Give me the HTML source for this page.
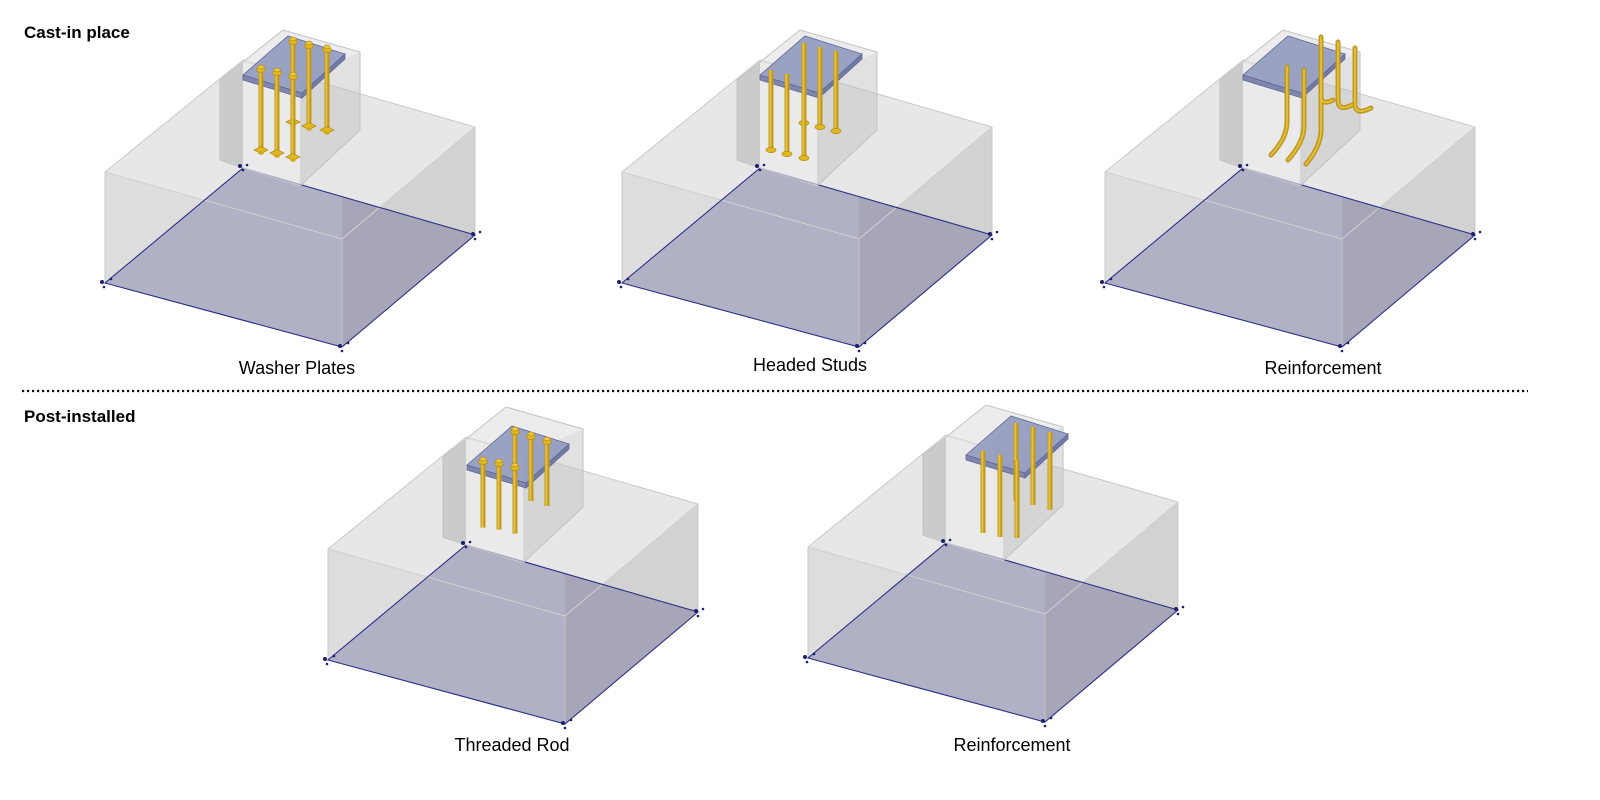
<!DOCTYPE html>
<html><head><meta charset="utf-8"><style>
html,body{margin:0;padding:0;background:#fff;}
svg{display:block;}
text{font-family:"Liberation Sans",sans-serif;}
</style></head><body>
<svg width="1600" height="800" viewBox="0 0 1600 800" xmlns="http://www.w3.org/2000/svg">
<defs>
<g id="body">
  <polygon points="105,172 243,60 475,127 342,239" fill="#e7e7e7"/>
  <polygon points="105,172 342,239 342,347 105,283" fill="#dddddd"/>
  <polygon points="342,239 475,127 475,235 342,347" fill="#d2d2d2"/>
  <polygon points="105,283 342,347 342,197 243,168" fill="#b1b1c6"/>
  <polygon points="342,347 475,235 342,197" fill="#a7a6b9"/>
  <polyline points="105,283 105,172 243,60 475,127 475,235" fill="none" stroke="#c9c9c9" stroke-width="1"/>
  <polyline points="105,172 342,239 475,127" fill="none" stroke="#d0d0d0" stroke-width="1"/>
  <line x1="342" y1="239" x2="342" y2="347" stroke="#c4c4c4"/>
  <polygon points="105,283 342,347 475,235 243,168" fill="none" stroke="#2e2e84" stroke-width="1.1"/>
  <polygon points="220,80 243,62 243,167 220,160" fill="#b4b4b4" fill-opacity="0.55"/>
  <polygon points="243,62 300,78 300,186 243,168" fill="#ececec" fill-opacity="0.6"/>
  <polygon points="300,78 360,52 360,130 300,186" fill="#c4c4c4" fill-opacity="0.5"/>
  <polygon points="243,62 283,30 360,52 300,78" fill="#e0e0e0" fill-opacity="0.6"/>
  <polygon points="243,62 283,30 360,52 360,130 300,186 243,168 220,160 220,80" fill="none" stroke="#c2c2c2"/>
  <g fill="#1e1e6e">
    <circle cx="102" cy="282" r="2"/><circle cx="111" cy="279" r="1.3"/><circle cx="104" cy="287" r="1.3"/>
    <circle cx="340" cy="346" r="2"/><circle cx="348" cy="343" r="1.3"/><circle cx="342" cy="351" r="1.3"/>
    <circle cx="473" cy="234" r="2"/><circle cx="480" cy="232" r="1.3"/><circle cx="475" cy="239" r="1.3"/>
    <circle cx="240" cy="166" r="2"/><circle cx="247" cy="165" r="1.3"/><circle cx="243" cy="170" r="1.3"/>
  </g>
</g>
<g id="plate">
  <polygon points="243,75 302,93 302,98 243,80" fill="#7f87ad" stroke="#5f6696" stroke-width="0.8"/>
  <polygon points="302,93 345,54 345,59 302,98" fill="#737ba4" stroke="#5f6696" stroke-width="0.8"/>
  <polygon points="243,75 288,36 345,54 302,93" fill="#939bbf" fill-opacity="0.92" stroke="#5f6696" stroke-width="0.8"/>
</g>
<g id="bar"><line x1="0" y1="0" x2="0" y2="82" stroke="#c09a1e" stroke-width="5"/><line x1="-0.6" y1="0" x2="-0.6" y2="82" stroke="#e6c442" stroke-width="1.8"/></g>
<g id="nut"><ellipse cx="0" cy="0" rx="4.5" ry="2.4" fill="#e2b820" stroke="#b08a12" stroke-width="0.7"/><ellipse cx="0" cy="-3" rx="3.2" ry="1.9" fill="#eec83a" stroke="#b08a12" stroke-width="0.6"/></g>
<g id="washer"><polygon points="-7,0 0,-3.5 7,0 0,3.5" fill="#e2b820" stroke="#b08a12" stroke-width="0.7"/><ellipse cx="0" cy="3" rx="2.8" ry="1.7" fill="#d4a818"/></g>
<g id="head"><ellipse cx="0" cy="0" rx="5" ry="2.6" fill="#e2b820" stroke="#b08a12" stroke-width="0.7"/></g>
</defs>

<text x="24" y="38" font-size="17" font-weight="bold">Cast-in place</text>
<text x="24" y="422" font-size="17" font-weight="bold">Post-installed</text>
<line x1="22" y1="391" x2="1528" y2="391" stroke="#111" stroke-width="2.2" stroke-dasharray="2.2,2.8"/>

<g>
  <use href="#body"/>
  <use href="#plate"/>
  <use href="#bar" transform="translate(293,42)"/><use href="#bar" transform="translate(309,46)"/><use href="#bar" transform="translate(327,50)"/>
  <use href="#washer" transform="translate(293,122)"/><use href="#washer" transform="translate(309,126)"/><use href="#washer" transform="translate(327,130)"/>
  <use href="#nut" transform="translate(293,42)"/><use href="#nut" transform="translate(309,46)"/><use href="#nut" transform="translate(327,50)"/>
  <use href="#bar" transform="translate(261,70)"/><use href="#bar" transform="translate(277,73)"/><use href="#bar" transform="translate(293,77)"/>
  <use href="#washer" transform="translate(261,150)"/><use href="#washer" transform="translate(277,153)"/><use href="#washer" transform="translate(293,157)"/>
  <use href="#nut" transform="translate(261,70)"/><use href="#nut" transform="translate(277,73)"/><use href="#nut" transform="translate(293,77)"/>
  <text x="297" y="374" font-size="18" text-anchor="middle">Washer Plates</text>
</g>

<g transform="translate(517,0)">
  <use href="#body"/>
  <use href="#plate"/>
  <use href="#bar" transform="translate(287,43)"/><use href="#bar" transform="translate(303,47)"/><use href="#bar" transform="translate(319,51)"/>
  <use href="#head" transform="translate(287,123)"/><use href="#head" transform="translate(303,127)"/><use href="#head" transform="translate(319,131)"/>
  <use href="#bar" transform="translate(254,70)"/><use href="#bar" transform="translate(270,74)"/><use href="#bar" transform="translate(287,78)"/>
  <use href="#head" transform="translate(254,150)"/><use href="#head" transform="translate(270,154)"/><use href="#head" transform="translate(287,158)"/>
  <text x="293" y="371" font-size="18" text-anchor="middle">Headed Studs</text>
</g>

<g transform="translate(1000,0)">
  <use href="#body"/>
  <use href="#plate"/>
  <g fill="none" stroke-linecap="round">
    <g stroke="#c09a1e" stroke-width="5">
      <path d="M321,37 V96 Q321,106 333,100"/>
      <path d="M338,42 V100 Q338,112 352,105"/>
      <path d="M355,48 V104 Q355,116 371,108"/>
      <path d="M287,67 V122 Q287,138 271,155"/>
      <path d="M304,70 V126 Q304,142 288,160"/>
      <path d="M321,76 V130 Q321,146 306,164"/>
    </g>
    <g stroke="#e6c442" stroke-width="1.6">
      <path d="M321,37 V96 Q321,106 333,100"/>
      <path d="M338,42 V100 Q338,112 352,105"/>
      <path d="M355,48 V104 Q355,116 371,108"/>
      <path d="M287,67 V122 Q287,138 271,155"/>
      <path d="M304,70 V126 Q304,142 288,160"/>
      <path d="M321,76 V130 Q321,146 306,164"/>
    </g>
  </g>
  <text x="323" y="374" font-size="18" text-anchor="middle">Reinforcement</text>
</g>

<g transform="translate(223,377)">
  <use href="#body"/>
  <g transform="translate(1,13)"><use href="#plate"/></g>
  <use href="#bar" transform="translate(292,55) scale(1,0.78)"/><use href="#bar" transform="translate(308,60) scale(1,0.78)"/><use href="#bar" transform="translate(324,65) scale(1,0.78)"/>
  <use href="#nut" transform="translate(292,55)"/><use href="#nut" transform="translate(308,60)"/><use href="#nut" transform="translate(324,65)"/>
  <use href="#bar" transform="translate(260,85) scale(1,0.8)"/><use href="#bar" transform="translate(276,87) scale(1,0.8)"/><use href="#bar" transform="translate(292,91) scale(1,0.8)"/>
  <use href="#nut" transform="translate(260,85)"/><use href="#nut" transform="translate(276,87)"/><use href="#nut" transform="translate(292,91)"/>
  <text x="289" y="374" font-size="18" text-anchor="middle">Threaded Rod</text>
</g>

<g transform="translate(703,375)">
  <use href="#body"/>
  <g transform="translate(20,5)"><use href="#plate"/></g>
  <use href="#bar" transform="translate(313,48) scale(1,0.95)"/><use href="#bar" transform="translate(330,52) scale(1,0.95)"/><use href="#bar" transform="translate(347,57) scale(1,0.95)"/>
  <use href="#bar" transform="translate(280,76)"/><use href="#bar" transform="translate(297,80)"/><use href="#bar" transform="translate(314,85) scale(1,0.95)"/>
  <text x="309" y="376" font-size="18" text-anchor="middle">Reinforcement</text>
</g>
</svg>
</body></html>
